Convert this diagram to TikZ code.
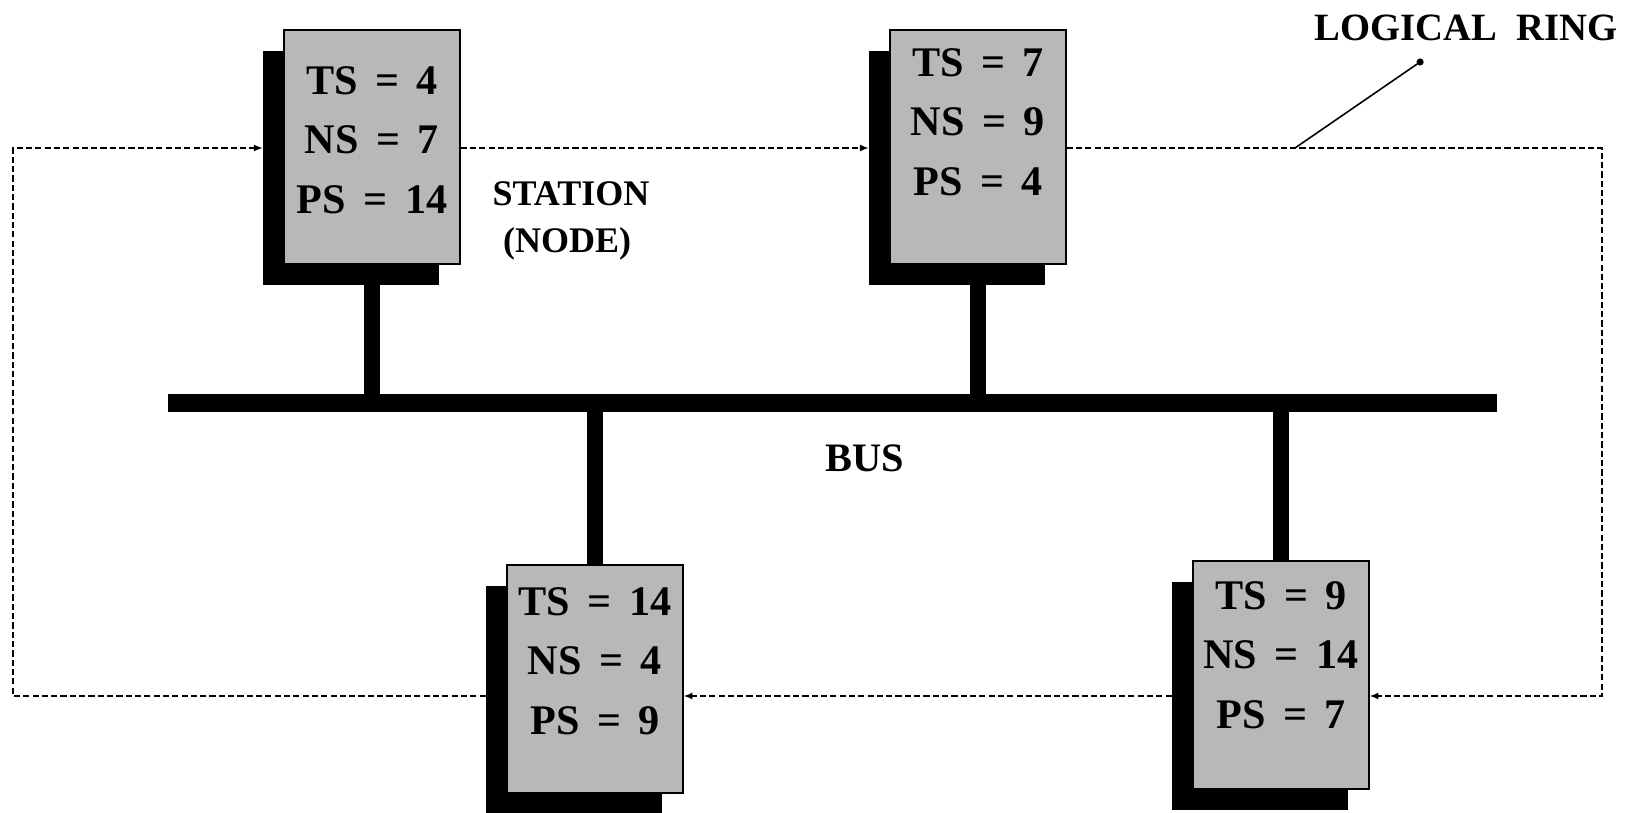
\documentclass[tikz,border=0pt]{standalone}
\usepackage{fontspec}
\setmainfont{Liberation Serif}
\usetikzlibrary{positioning, arrows.meta}
\tikzset{
  every node/.style={font=\bfseries\fontsize{22}{27}\selectfont},
  station/.style={draw=black, line width=0.8pt, fill=black!28, minimum width=3.52cm,
                  inner sep=0pt},
  shade/.style={fill=black, minimum width=3.52cm, inner sep=0pt},
  entries/.style={align=center, inner sep=0pt, font=\bfseries\fontsize{24}{34}\selectfont},
  ring/.style={dash pattern=on 3.5pt off 1.8pt, line width=0.8pt},
  ringarr/.style={ring, -{Latex[length=5pt,width=4pt]}},
  stub/.style={line width=9pt},
  busbar/.style={fill=black, minimum width=26.58cm, minimum height=0.36cm, inner sep=0pt},
}
\newcommand{\eq}{\ \,=\,\ }

\begin{document}
\begin{tikzpicture}[x=0.02cm, y=-0.02cm]
  \useasboundingbox (0,0) rectangle (1650,813);
  % --- stations, each with its black shadow ---
  \foreach \n/\x/\y/\h/\up/\ts/\ns/\ps in {1/372/147/4.68/7/4/7/14, 2/978/147/4.68/25/7/9/4,
                                            3/595/679/4.56/18/14/4/9, 4/1281/675/4.56/20/9/14/7} {
    \node[shade, minimum height=\h cm] (sh\n) at (\x-21,\y+21) {};
    \node[station, minimum height=\h cm] (s\n) at (\x,\y) {};
    \node[entries] (t\n) at (\x,\y-\up) {TS\eq\ts\\NS\eq\ns\\PS\eq\ps};
  }
  % --- the bus and the drops ---
  \node[busbar] (bus) at (832.5,403) {};
  \foreach \n in {1,2} \draw[stub] (s\n.south) -- (s\n.south |- bus.north);
  \foreach \n in {3,4} \draw[stub] (bus.south -| s\n.north) -- (s\n.north);
  \node[font=\bfseries\fontsize{23}{27}\selectfont] (buslbl) at (865,458) {BUS};
  \node[align=left, font=\bfseries\fontsize{20.5}{27}\selectfont] (stalbl) at (571,221)
    {STATION\\\hspace{6pt}(NODE)};
  % --- logical ring ---
  \coordinate (rTL) at (13,148);
  \coordinate (rTR) at (1602,148);
  \coordinate (rBR) at (1602,696);
  \coordinate (rBL) at (13,696);
  \draw[ringarr] (s1.east |- rTL) -- (sh2.west |- rTL);
  \draw[ringarr] (s2.east |- rTR) -- (rTR) -- (rBR) -- (s4.east |- rBR);
  \draw[ringarr] (sh4.west |- rBR) -- (s3.east |- rBR);
  \draw[ringarr] (sh3.west |- rBL) -- (rBL) -- (rTL) -- (sh1.west |- rTL);
  \node (ringlbl) at (1466,28) {LOGICAL\ \ RING};
  \coordinate (tick) at (1295,148);
  \coordinate (ptr) at (1423,60);
  \draw[line width=0.9pt, -{Circle[length=4pt]}] (tick) -- (ptr);
\end{tikzpicture}
\end{document}
